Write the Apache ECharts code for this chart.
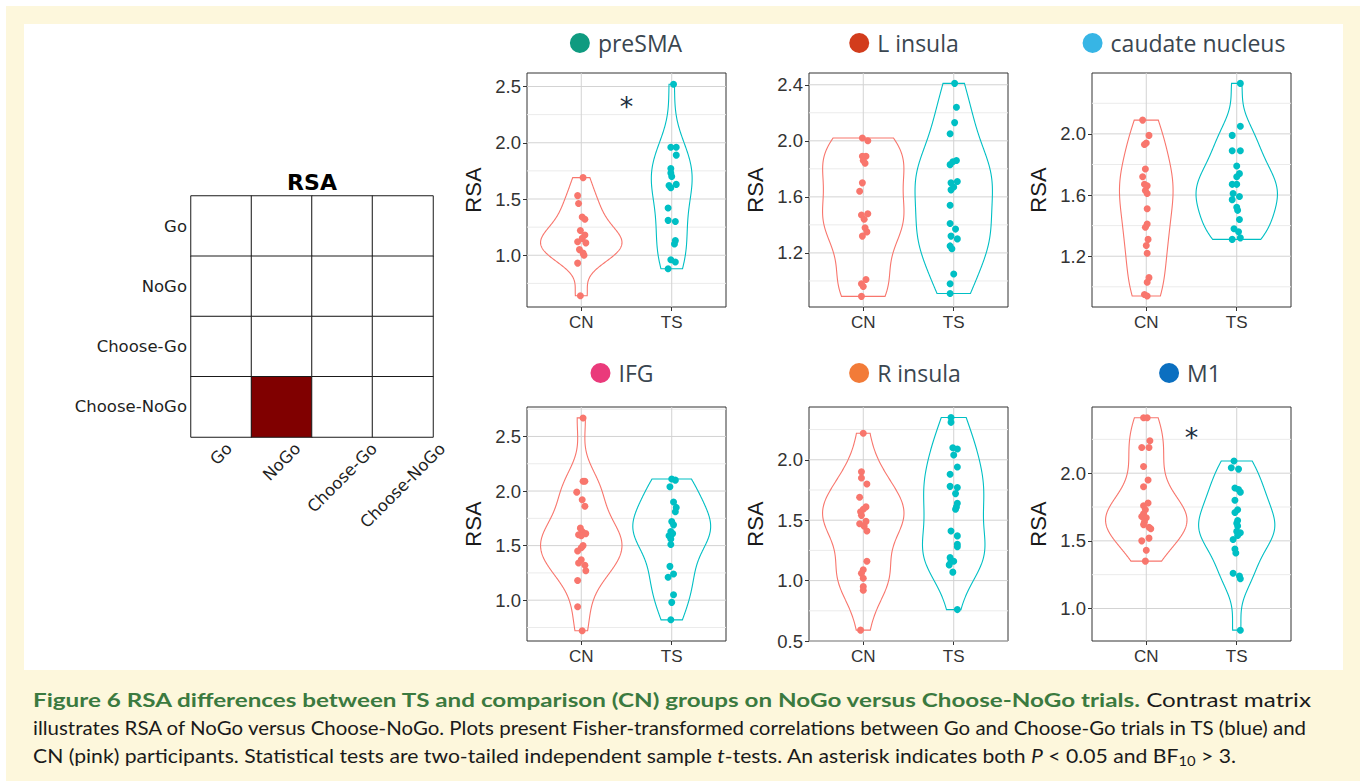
<!DOCTYPE html>
<html><head><meta charset="utf-8">
<script src="https://cdn.jsdelivr.net/npm/echarts@6/dist/echarts.min.js"></script>
<style>
html,body{margin:0;padding:0;width:1360px;height:781px;background:#fff;overflow:hidden;}
#cream{position:absolute;left:6px;top:6px;width:1354px;height:775px;background:#fdf7dc;}
#panel{position:absolute;left:24px;top:24px;width:1319px;height:646px;background:#fff;}
#chart{position:absolute;left:0;top:0;width:1360px;height:781px;}
#caption{position:absolute;left:33px;top:686px;font-family:Lato,'Open Sans',sans-serif;font-size:19px;line-height:28px;color:#1a1a1a;}
.ln{white-space:nowrap;transform-origin:0 50%;display:block;width:max-content;}
.hd{color:#3b7a3f;font-weight:bold;}
sub{font-size:0.7em;vertical-align:-0.25em;line-height:0;}
</style></head>
<body>
<div id="cream"></div><div id="panel"></div><div id="chart"></div>
<div id="caption">
<div class="ln" data-w="1278"><span class="hd">Figure 6 RSA differences between TS and comparison (CN) groups on NoGo versus Choose-NoGo trials.</span> Contrast matrix</div>
<div class="ln" data-w="1273">illustrates RSA of NoGo versus Choose-NoGo. Plots present Fisher-transformed correlations between Go and Choose-Go trials in TS (blue) and</div>
<div class="ln" data-w="1203">CN (pink) participants. Statistical tests are two-tailed independent sample <i>t</i>-tests. An asterisk indicates both <i>P</i> &lt; 0.05 and BF<sub>10</sub> &gt; 3.</div>
</div>
<script>
// ---------------- DATA ----------------
const matrixRows = ['Go','NoGo','Choose-Go','Choose-NoGo'];
const matrixCols = ['Go','NoGo','Choose-Go','Choose-NoGo'];
const matrixValues = [
  [0,0,0,0],
  [0,0,0,0],
  [0,0,0,0],
  [0,1,0,0]
];

const regions = ['preSMA','L insula','caudate nucleus','IFG','R insula','M1'];
const regionColors = ['#0f9b80','#d23c1c','#37b5e5','#ea3a7b','#f27b38','#0b6fc0'];
const groups = ['CN','TS'];
const groupColors = ['#F8766D','#00BFC4'];

const preSMA_CN = [1.69,1.53,1.46,1.34,1.32,1.22,1.18,1.15,1.12,1.11,1.05,1.02,1.00,0.93,0.64];
const preSMA_CN_jit = [0.02,-0.04,-0.03,0.01,0.04,-0.01,0.04,0.01,-0.04,0.05,-0.02,0.02,0.03,-0.04,-0.01];
const preSMA_TS = [2.52,1.96,1.96,1.89,1.77,1.73,1.70,1.62,1.60,1.63,1.42,1.31,1.30,1.13,1.10,0.96,0.94,0.88];
const preSMA_TS_jit = [0.02,-0.01,0.05,0.05,-0.01,-0.01,0,-0.03,-0.01,0.05,-0.04,-0.04,0.04,0.04,0.03,-0.01,0.04,-0.04];

const Linsula_CN = [2.02,2.00,1.89,1.89,1.86,1.84,1.70,1.64,1.47,1.48,1.44,1.38,1.35,1.32,1.01,0.98,0.96,0.89];
const Linsula_CN_jit = [-0.01,0.05,-0.01,0.03,0,0.02,-0.01,-0.04,-0.02,0.05,0.01,0.02,0.04,-0.01,0.03,-0.02,0,-0.02];
const Linsula_TS = [2.41,2.24,2.13,2.05,1.86,1.85,1.83,1.71,1.70,1.67,1.65,1.54,1.41,1.37,1.32,1.30,1.25,1.23,1.05,0.98,0.91];
const Linsula_TS_jit = [0.01,0.03,0.01,-0.04,0.03,-0.01,-0.04,0.04,-0.03,0,-0.03,-0.04,-0.04,0.02,-0.03,0.04,-0.04,-0.02,0,-0.04,-0.04];

const caudate_CN = [2.09,1.99,1.94,1.93,1.77,1.72,1.67,1.66,1.63,1.61,1.51,1.41,1.39,1.31,1.27,1.22,1.06,1.03,0.95,0.94];
const caudate_CN_jit = [-0.04,0.03,0,-0.02,-0.01,-0.04,-0.02,0.01,-0.01,0.01,0.01,0.01,-0.01,0.02,0,0.01,0.03,0.01,-0.02,0.01];
const caudate_TS = [2.33,2.05,1.99,1.89,1.89,1.79,1.74,1.72,1.67,1.67,1.61,1.59,1.57,1.52,1.50,1.44,1.38,1.36,1.32,1.31];
const caudate_TS_jit = [0.04,0.04,-0.05,-0.05,0.04,0,0.03,0,-0.05,0,-0.04,0.03,-0.05,0,0.01,0.03,-0.03,0.02,0.04,-0.05];

const IFG_CN = [2.67,2.09,2.09,1.99,1.92,1.86,1.66,1.63,1.60,1.61,1.59,1.50,1.48,1.45,1.37,1.34,1.32,1.27,1.18,0.94,0.72];
const IFG_CN_jit = [0.02,0.02,0.04,-0.05,0.01,0.04,-0.01,0.01,-0.03,0.05,0,0.02,0,-0.04,0,-0.03,0.04,0.05,-0.04,-0.04,0.01];
const IFG_TS = [2.11,2.10,2.04,1.90,1.85,1.81,1.72,1.69,1.63,1.61,1.59,1.56,1.51,1.31,1.24,1.21,1.05,0.98,0.82];
const IFG_TS_jit = [0,0.04,-0.02,0.02,0.05,0.04,0,0.02,-0.01,0.01,-0.03,-0.01,-0.01,-0.02,0.02,-0.04,0.02,0,-0.01];

const Rinsula_CN = [2.22,1.90,1.85,1.80,1.69,1.61,1.59,1.57,1.54,1.49,1.47,1.45,1.41,1.16,1.09,1.06,1.02,0.95,0.92,0.59];
const Rinsula_CN_jit = [0,-0.02,-0.02,0.04,-0.04,0.03,0,-0.03,-0.02,0.03,-0.04,0.01,0.04,0.04,0,-0.02,0,0,0,-0.03];
const Rinsula_TS = [2.35,2.31,2.10,2.09,2.04,1.94,1.88,1.78,1.77,1.72,1.64,1.61,1.59,1.41,1.37,1.30,1.28,1.19,1.16,1.16,1.13,1.07,0.76];
const Rinsula_TS_jit = [-0.03,-0.03,-0.01,0.04,0,0.04,-0.04,-0.04,0.04,0.02,0.04,0.03,0.02,-0.03,0.04,0.04,0.04,-0.04,-0.03,0,-0.05,-0.01,0.04];

const M1_CN = [2.41,2.41,2.24,2.19,2.19,2.05,1.95,1.90,1.78,1.76,1.73,1.70,1.68,1.67,1.64,1.62,1.60,1.59,1.50,1.52,1.43,1.35];
const M1_CN_jit = [-0.03,0.01,0.04,-0.05,0.03,-0.03,0.02,-0.03,0.02,-0.03,-0.01,-0.03,-0.05,0,-0.02,-0.03,0.03,0.05,-0.05,0.03,0,-0.01];
const M1_TS = [2.09,2.04,2.03,1.89,1.88,1.86,1.80,1.73,1.71,1.65,1.63,1.61,1.57,1.56,1.54,1.51,1.44,1.41,1.26,1.24,1.22,0.84];
const M1_TS_jit = [-0.03,-0.06,0.02,-0.02,0.02,0.04,-0.02,0.01,-0.02,0.01,0,0.01,0,0.04,0.01,-0.04,-0.02,-0.01,-0.04,0.03,0.04,0.04];

// axis ranges and tick labels per panel
const yMin = [0.54, 0.814, 0.868, 0.626, 0.5, 0.76];
const yMax = [2.62, 2.484, 2.398, 2.77, 2.437, 2.489];
const yMajor = [[1.0,1.5,2.0,2.5],[1.2,1.6,2.0,2.4],[1.2,1.6,2.0],[1.0,1.5,2.0,2.5],[0.5,1.0,1.5,2.0],[1.0,1.5,2.0]];
const yMinor = [[0.75,1.25,1.75,2.25],[1.0,1.4,1.8,2.2],[1.0,1.4,1.8,2.2],[0.75,1.25,1.75,2.25,2.75],[0.75,1.25,1.75,2.25],[1.25,1.75,2.25]];
// significance asterisks (x between groups, y value)
const sigX = [1.5, null, null, null, null, 1.5];
const sigY = [2.37, null, null, null, null, 2.30];

// ---------------- BUILD ----------------
const panelValues = [[preSMA_CN,preSMA_TS],[Linsula_CN,Linsula_TS],[caudate_CN,caudate_TS],[IFG_CN,IFG_TS],[Rinsula_CN,Rinsula_TS],[M1_CN,M1_TS]];
const panelJitter = [[preSMA_CN_jit,preSMA_TS_jit],[Linsula_CN_jit,Linsula_TS_jit],[caudate_CN_jit,caudate_TS_jit],[IFG_CN_jit,IFG_TS_jit],[Rinsula_CN_jit,Rinsula_TS_jit],[M1_CN_jit,M1_TS_jit]];

// layout (pixels)
const pLeft = [527, 809, 1092, 527, 809, 1092];
const pTop = [73, 73, 73, 407, 407, 407];
const pW = 199, pH = 234;
const titleCX = [626, 904, 1184, 622, 905, 1190];
const titleCY = [43, 43, 43, 373, 373, 373];

function quantile(s, p){ const h=(s.length-1)*p; const lo=Math.floor(h); const hi=Math.min(lo+1,s.length-1); return s[lo]+(h-lo)*(s[hi]-s[lo]); }
function kde(vals){
  const s=[...vals].sort((a,b)=>a-b); const n=s.length;
  const mean=s.reduce((a,b)=>a+b,0)/n;
  const sd=Math.sqrt(s.reduce((a,b)=>a+(b-mean)*(b-mean),0)/(n-1));
  const iqr=quantile(s,0.75)-quantile(s,0.25);
  let lo=Math.min(sd, iqr/1.34); if(!(lo>0)) lo=sd||1;
  const bw=0.9*lo*Math.pow(n,-0.2);
  const ys=[], d=[]; const N=256;
  for(let i=0;i<=N;i++){
    const y=s[0]+(s[n-1]-s[0])*i/N; let sum=0;
    for(const x of s){ const z=(y-x)/bw; sum+=Math.exp(-0.5*z*z); }
    ys.push(y); d.push(sum/(n*bw*Math.sqrt(2*Math.PI)));
  }
  return {ys, d};
}

const measureCtx = document.createElement('canvas').getContext('2d');
function textW(t, font){ measureCtx.font = font; return measureCtx.measureText(t).width; }

const grids=[], xAxes=[], yAxes=[], series=[], graphics=[];

// heatmap grid (index 0)
grids.push({left:191, top:196, width:242, height:241, show:false, outerBoundsMode:'none', containLabel:false});
xAxes.push({type:'category', gridIndex:0, data:matrixCols, axisLabel:{show:false}, axisTick:{show:false}, axisLine:{show:false}, splitLine:{show:false}});
yAxes.push({type:'category', gridIndex:0, data:matrixRows, inverse:true, axisTick:{show:false}, axisLine:{show:false}, splitLine:{show:false},
  axisLabel:{fontFamily:'DejaVu Sans', fontSize:16.5, color:'#1f1f1f', margin:4}});
const heatData=[];
matrixValues.forEach((row,r)=>row.forEach((v,c)=>heatData.push([c,r,v])));
series.push({type:'heatmap', xAxisIndex:0, yAxisIndex:0, data:heatData, silent:true,
  itemStyle:{borderColor:'#1a1a1a', borderWidth:1}, emphasis:{disabled:true}});
const labFont = '16.5px "DejaVu Sans"';
series.push({type:'custom', xAxisIndex:0, yAxisIndex:0, silent:true, clip:false,
  data: matrixCols.map((c,i)=>[i, matrixRows.length-1]),
  renderItem:(params, api)=>{
    const i = api.value(0);
    const p = api.coord([i, api.value(1)]);
    const sz = api.size([1,1]);
    const bottom = p[1] + sz[1]/2;
    const txt = matrixCols[i];
    const W = textW(txt, labFont), H = 16.5;
    const cy = bottom + 3 + (W+H)*Math.SQRT1_2/2;
    return {type:'text', x:p[0], y:cy, rotation:Math.PI/4,
      style:{text:txt, font:labFont, fill:'#1f1f1f', align:'center', verticalAlign:'middle'}};
  }});
graphics.push({type:'text', x:312, y:182, style:{text:'RSA', font:'bold 22px "DejaVu Sans"', fill:'#000', align:'center', verticalAlign:'middle'}});

// violin panels
for(let p=0;p<6;p++){
  const gi=p+1;
  grids.push({left:pLeft[p], top:pTop[p], width:pW, height:pH, show:true, backgroundColor:'#fff', borderColor:'#333', borderWidth:1, outerBoundsMode:'none', containLabel:false});
  xAxes.push({type:'value', gridIndex:gi, min:0.4, max:2.6, axisLine:{show:false}, splitLine:{show:false},
    axisTick:{show:true, customValues:[1,2], length:4, lineStyle:{color:'#333'}},
    axisLabel:{customValues:[1,2], formatter:v=>groups[Math.round(v)-1], fontFamily:'Liberation Sans', fontSize:17, color:'#333', margin:7}});
  yAxes.push({type:'value', gridIndex:gi, min:yMin[p], max:yMax[p], axisLine:{show:false}, splitLine:{show:false},
    axisTick:{show:true, customValues:yMajor[p], length:4, lineStyle:{color:'#333'}},
    axisLabel:{customValues:yMajor[p], formatter:v=>v.toFixed(1), fontFamily:'Liberation Sans', fontSize:18.5, color:'#333', margin:6},
    name:'RSA', nameLocation:'middle', nameGap:43, nameRotate:90,
    nameTextStyle:{fontFamily:'Liberation Sans', fontSize:22, color:'#1a1a1a'}});

  // grid lines
  const hLine=(color,w)=>(params,api)=>{
    const cs=params.coordSys; const y=api.coord([1, api.value(1)])[1];
    return {type:'line', shape:{x1:cs.x, y1:y, x2:cs.x+cs.width, y2:y}, style:{stroke:color, lineWidth:w}};
  };
  series.push({type:'custom', xAxisIndex:gi, yAxisIndex:gi, silent:true, z:1, clip:false,
    data:yMinor[p].filter(v=>v>yMin[p]&&v<yMax[p]).map(v=>[1,v]), renderItem:hLine('#ebebeb',1)});
  series.push({type:'custom', xAxisIndex:gi, yAxisIndex:gi, silent:true, z:1, clip:false,
    data:yMajor[p].map(v=>[1,v]), renderItem:hLine('#d3d3d3',1)});
  series.push({type:'custom', xAxisIndex:gi, yAxisIndex:gi, silent:true, z:1, clip:false,
    data:[[1,yMin[p]],[2,yMin[p]]], renderItem:(params,api)=>{
      const cs=params.coordSys; const x=api.coord([api.value(0), yMin[p]])[0];
      return {type:'line', shape:{x1:x, y1:cs.y, x2:x, y2:cs.y+cs.height}, style:{stroke:'#d3d3d3', lineWidth:1}};
    }});

  // violins (trimmed gaussian KDE, scale = area)
  const ks = panelValues[p].map(kde);
  const dmax = Math.max(...ks.map(k=>Math.max(...k.d)));
  ks.forEach((k,g)=>{
    const c=g+1;
    series.push({type:'custom', xAxisIndex:gi, yAxisIndex:gi, silent:true, z:3, clip:false,
      data:[[c, k.ys[0]]], renderItem:(params,api)=>{
        const pts=[];
        for(let i=0;i<k.ys.length;i++) pts.push(api.coord([c+0.45*k.d[i]/dmax, k.ys[i]]));
        for(let i=k.ys.length-1;i>=0;i--) pts.push(api.coord([c-0.45*k.d[i]/dmax, k.ys[i]]));
        return {type:'polygon', shape:{points:pts}, style:{fill:'none', stroke:groupColors[g], lineWidth:1.1}};
      }});
  });
  // points
  panelValues[p].forEach((vals,g)=>{
    const jit=panelJitter[p][g];
    series.push({type:'scatter', xAxisIndex:gi, yAxisIndex:gi, silent:true, z:4, symbol:'circle', symbolSize:7,
      itemStyle:{color:groupColors[g], opacity:1}, data:vals.map((v,i)=>[g+1+(jit[i]||0), v])});
  });
  // asterisk
  if(sigX[p]!=null){
    series.push({type:'custom', xAxisIndex:gi, yAxisIndex:gi, silent:true, z:5, clip:false,
      data:[[sigX[p], sigY[p]]], renderItem:(params,api)=>{
        const pt=api.coord([api.value(0), api.value(1)]);
        return {type:'text', x:pt[0], y:pt[1]+5, style:{text:'*', font:'27px "DejaVu Sans"', fill:'#1c2f40', align:'center', verticalAlign:'middle'}};
      }});
  }
  // panel title
  graphics.push({type:'text', x:titleCX[p], y:titleCY[p], style:{
    text:'{d| }{g| }{t|'+regions[p]+'}', align:'center', verticalAlign:'middle',
    rich:{ d:{width:20, height:20, borderRadius:10, backgroundColor:regionColors[p]},
           g:{width:8},
           t:{fontFamily:'Open Sans', fontSize:23, fill:'#3a4650'} }}});
}

const chart = echarts.init(document.getElementById('chart'), null, {renderer:'svg'});
chart.setOption({
  backgroundColor:'transparent',
  animation:false,
  grid:grids, xAxis:xAxes, yAxis:yAxes,
  visualMap:{show:false, seriesIndex:0, min:-1, max:1, inRange:{color:['#00004c','#0000ff','#ffffff','#ff0000','#800000']}},
  series:series,
  graphic:graphics
});

function fit(){
  document.querySelectorAll('.ln').forEach(el=>{
    el.style.transform='none';
    const w=el.getBoundingClientRect().width; const t=+el.dataset.w;
    if(w>0) el.style.transform='scaleX('+(t/w)+')';
  });
}
fit();
if(document.fonts && document.fonts.ready) document.fonts.ready.then(fit);
</script>
</body></html>
